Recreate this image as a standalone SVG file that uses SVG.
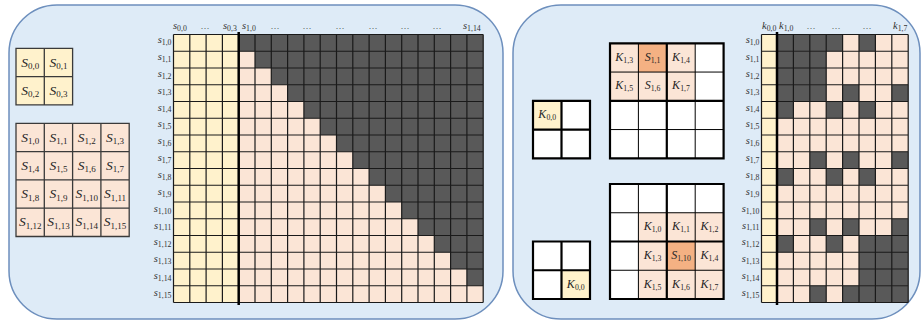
<svg xmlns="http://www.w3.org/2000/svg" width="923" height="322" viewBox="0 0 923 322">
<style>
.panel{fill:#deebf7;stroke:#6d8fbd;stroke-width:1.5}
.y{fill:#fff2cc}.p{fill:#fbe5d6}.d{fill:#595959}.o{fill:#f4b183}.w{fill:#ffffff}
.grid{fill:none;stroke:#1a1a1a;stroke-width:1.2}
.thick{fill:none;stroke:#000;stroke-width:2.5}
.sg{fill:none;stroke:#3a3a3a;stroke-width:1.3}
.kg{fill:none;stroke:#000;stroke-width:1}
.kt{fill:none;stroke:#000;stroke-width:2.2}
text{font-family:"Liberation Serif","DejaVu Serif",serif;font-style:italic;fill:#333333}
.ax{font-size:10.5px}
.ax tspan{font-size:7.8px;font-style:normal}
.cl{font-size:13.5px;fill:#262626;text-anchor:middle}
.cl tspan{font-size:9px;font-style:normal}
.kl{font-size:12px;fill:#262626;text-anchor:middle}
.kl tspan{font-size:7.8px;font-style:normal}
.dots{font-size:9px;font-style:normal;text-anchor:middle}
.r{text-anchor:end}
</style>

<g id="left-panel">
<rect class="panel" x="9" y="5" width="494" height="314" rx="48"/>
</g>

<g id="right-panel">
<rect class="panel" x="513" y="5" width="407" height="314" rx="48"/>
</g>

<g id="s0-grid">
<rect class="y" x="16" y="48.3" width="56.6" height="56.6"/>
<path class="sg" d="M16 48.3h56.6v56.6H16zM44.3 48.3V104.9M16 76.6H72.6"/>
<text class="cl" x="30.15" y="66.5">S<tspan dy="2.5">0,0</tspan></text>
<text class="cl" x="58.45" y="66.5">S<tspan dy="2.5">0,1</tspan></text>
<text class="cl" x="30.15" y="94.8">S<tspan dy="2.5">0,2</tspan></text>
<text class="cl" x="58.45" y="94.8">S<tspan dy="2.5">0,3</tspan></text>
</g>

<g id="s1-grid">
<rect class="p" x="16" y="123.3" width="113.2" height="113.2"/>
<path class="sg" d="M16 123.3h113.2v113.2H16zM44.3 123.3V236.5M72.6 123.3V236.5M100.9 123.3V236.5M16 151.6H129.2M16 179.9H129.2M16 208.2H129.2"/>
<text class="cl" x="30.15" y="141.5">S<tspan dy="2.5">1,0</tspan></text>
<text class="cl" x="58.45" y="141.5">S<tspan dy="2.5">1,1</tspan></text>
<text class="cl" x="86.75" y="141.5">S<tspan dy="2.5">1,2</tspan></text>
<text class="cl" x="115.05" y="141.5">S<tspan dy="2.5">1,3</tspan></text>
<text class="cl" x="30.15" y="169.8">S<tspan dy="2.5">1,4</tspan></text>
<text class="cl" x="58.45" y="169.8">S<tspan dy="2.5">1,5</tspan></text>
<text class="cl" x="86.75" y="169.8">S<tspan dy="2.5">1,6</tspan></text>
<text class="cl" x="115.05" y="169.8">S<tspan dy="2.5">1,7</tspan></text>
<text class="cl" x="30.15" y="198">S<tspan dy="2.5">1,8</tspan></text>
<text class="cl" x="58.45" y="198">S<tspan dy="2.5">1,9</tspan></text>
<text class="cl" x="86.75" y="198">S<tspan dy="2.5">1,10</tspan></text>
<text class="cl" x="115.05" y="198">S<tspan dy="2.5">1,11</tspan></text>
<text class="cl" x="30.15" y="226.4">S<tspan dy="2.5">1,12</tspan></text>
<text class="cl" x="58.45" y="226.4">S<tspan dy="2.5">1,13</tspan></text>
<text class="cl" x="86.75" y="226.4">S<tspan dy="2.5">1,14</tspan></text>
<text class="cl" x="115.05" y="226.4">S<tspan dy="2.5">1,15</tspan></text>
</g>

<g id="mask-matrix-left">
<rect class="y" x="173.5" y="34.5" width="65.2" height="268"/>
<rect class="p" x="238.7" y="34.5" width="244.5" height="268"/>
<polygon class="d" points="238.7,34.5 483.2,34.5 483.2,285.75 466.9,285.75 466.9,269 450.6,269 450.6,252.25 434.3,252.25 434.3,235.5 418,235.5 418,218.75 401.7,218.75 401.7,202 385.4,202 385.4,185.25 369.1,185.25 369.1,168.5 352.8,168.5 352.8,151.75 336.5,151.75 336.5,135 320.2,135 320.2,118.25 303.9,118.25 303.9,101.5 287.6,101.5 287.6,84.75 271.3,84.75 271.3,68 255,68 255,51.25 238.7,51.25"/>
<path class="grid" d="M173.5 34.5V302.5M189.8 34.5V302.5M206.1 34.5V302.5M222.4 34.5V302.5M255 34.5V302.5M271.3 34.5V302.5M287.6 34.5V302.5M303.9 34.5V302.5M320.2 34.5V302.5M336.5 34.5V302.5M352.8 34.5V302.5M369.1 34.5V302.5M385.4 34.5V302.5M401.7 34.5V302.5M418 34.5V302.5M434.3 34.5V302.5M450.6 34.5V302.5M466.9 34.5V302.5M483.2 34.5V302.5M173.5 34.5H483.2M173.5 51.25H483.2M173.5 68H483.2M173.5 84.75H483.2M173.5 101.5H483.2M173.5 118.25H483.2M173.5 135H483.2M173.5 151.75H483.2M173.5 168.5H483.2M173.5 185.25H483.2M173.5 202H483.2M173.5 218.75H483.2M173.5 235.5H483.2M173.5 252.25H483.2M173.5 269H483.2M173.5 285.75H483.2M173.5 302.5H483.2"/>
<path class="thick" d="M238.7 32V305"/>
<text class="ax" x="173" y="29.3">s<tspan dy="1.8">0,0</tspan></text>
<text class="dots" x="205" y="29">…</text>
<text class="ax" x="223" y="29.3">s<tspan dy="1.8">0,3</tspan></text>
<text class="ax" x="242" y="29.3">s<tspan dy="1.8">1,0</tspan></text>
<text class="dots" x="275" y="29">…</text>
<text class="dots" x="307" y="29">…</text>
<text class="dots" x="340" y="29">…</text>
<text class="dots" x="373" y="29">…</text>
<text class="dots" x="405" y="29">…</text>
<text class="dots" x="437" y="29">…</text>
<text class="ax" x="463" y="29.3">s<tspan dy="1.8">1,14</tspan></text>
<text class="ax r" x="171.5" y="43">s<tspan dy="1.8">1,0</tspan></text>
<text class="ax r" x="171.5" y="59.9">s<tspan dy="1.8">1,1</tspan></text>
<text class="ax r" x="171.5" y="76.7">s<tspan dy="1.8">1,2</tspan></text>
<text class="ax r" x="171.5" y="93.6">s<tspan dy="1.8">1,3</tspan></text>
<text class="ax r" x="171.5" y="110.5">s<tspan dy="1.8">1,4</tspan></text>
<text class="ax r" x="171.5" y="127.4">s<tspan dy="1.8">1,5</tspan></text>
<text class="ax r" x="171.5" y="144.2">s<tspan dy="1.8">1,6</tspan></text>
<text class="ax r" x="171.5" y="161.1">s<tspan dy="1.8">1,7</tspan></text>
<text class="ax r" x="171.5" y="178">s<tspan dy="1.8">1,8</tspan></text>
<text class="ax r" x="171.5" y="194.8">s<tspan dy="1.8">1,9</tspan></text>
<text class="ax r" x="171.5" y="211.7">s<tspan dy="1.8">1,10</tspan></text>
<text class="ax r" x="171.5" y="228.6">s<tspan dy="1.8">1,11</tspan></text>
<text class="ax r" x="171.5" y="245.4">s<tspan dy="1.8">1,12</tspan></text>
<text class="ax r" x="171.5" y="262.3">s<tspan dy="1.8">1,13</tspan></text>
<text class="ax r" x="171.5" y="279.2">s<tspan dy="1.8">1,14</tspan></text>
<text class="ax r" x="171.5" y="296">s<tspan dy="1.8">1,15</tspan></text>
</g>

<g id="k-small-top">
<rect class="w" x="533" y="100.8" width="57" height="57.5"/>
<rect class="y" x="533" y="100.8" width="28.5" height="28.75"/>
<path class="kt" d="M533 100.8h57v57.5H533zM561.5 100.8V158.3M533 129.55H590"/>
<text class="kl" x="547.25" y="118.3">K<tspan dy="2">0,0</tspan></text>
</g>

<g id="k-big-top">
<rect class="w" x="610" y="43.3" width="113.6" height="115"/>
<rect class="p" x="610" y="43.3" width="85.2" height="57.5"/>
<rect class="o" x="638.4" y="43.3" width="28.4" height="28.75"/>
<path class="kg" d="M638.4 43.3V158.3M695.2 43.3V158.3M610 72.05H723.6M610 129.55H723.6"/>
<path class="kt" d="M610 43.3h113.6v115H610zM666.8 43.3V158.3M610 100.8H723.6"/>
<text class="kl" x="624.2" y="60.7">K<tspan dy="2">1,3</tspan></text>
<text class="kl" x="652.6" y="60.7">S<tspan dy="2">1,1</tspan></text>
<text class="kl" x="681" y="60.7">K<tspan dy="2">1,4</tspan></text>
<text class="kl" x="624.2" y="89.4">K<tspan dy="2">1,5</tspan></text>
<text class="kl" x="652.6" y="89.4">S<tspan dy="2">1,6</tspan></text>
<text class="kl" x="681" y="89.4">K<tspan dy="2">1,7</tspan></text>
</g>

<g id="k-small-bottom">
<rect class="w" x="533" y="241.5" width="57" height="57.5"/>
<rect class="y" x="561.5" y="270.25" width="28.5" height="28.75"/>
<path class="kt" d="M533 241.5h57V299H533zM561.5 241.5V299M533 270.25H590"/>
<text class="kl" x="575.75" y="287.8">K<tspan dy="2">0,0</tspan></text>
</g>

<g id="k-big-bottom">
<rect class="w" x="610" y="184" width="113.6" height="115"/>
<rect class="p" x="638.4" y="212.75" width="85.2" height="86.25"/>
<rect class="o" x="666.8" y="241.5" width="28.4" height="28.75"/>
<path class="kg" d="M638.4 184V299M695.2 184V299M610 212.75H723.6M610 270.25H723.6"/>
<path class="kt" d="M610 184h113.6v115H610zM666.8 184V299M610 241.5H723.6"/>
<text class="kl" x="652.6" y="230.1">K<tspan dy="2">1,0</tspan></text>
<text class="kl" x="681" y="230.1">K<tspan dy="2">1,1</tspan></text>
<text class="kl" x="709.4" y="230.1">K<tspan dy="2">1,2</tspan></text>
<text class="kl" x="652.6" y="258.9">K<tspan dy="2">1,3</tspan></text>
<text class="kl" x="681" y="258.9">S<tspan dy="2">1,10</tspan></text>
<text class="kl" x="709.4" y="258.9">K<tspan dy="2">1,4</tspan></text>
<text class="kl" x="652.6" y="287.6">K<tspan dy="2">1,5</tspan></text>
<text class="kl" x="681" y="287.6">K<tspan dy="2">1,6</tspan></text>
<text class="kl" x="709.4" y="287.6">K<tspan dy="2">1,7</tspan></text>
</g>

<g id="mask-matrix-right">
<rect class="y" x="761.5" y="34.5" width="15.5" height="268"/>
<rect class="p" x="777" y="34.5" width="131.2" height="268"/>
<rect class="d" x="777" y="34.5" width="65.6" height="16.75"/>
<rect class="d" x="859" y="34.5" width="16.4" height="16.75"/>
<rect class="d" x="777" y="51.25" width="49.2" height="33.5"/>
<rect class="d" x="777" y="84.75" width="49.2" height="16.75"/>
<rect class="d" x="842.6" y="84.75" width="16.4" height="16.75"/>
<rect class="d" x="891.8" y="84.75" width="16.4" height="16.75"/>
<rect class="d" x="777" y="101.5" width="16.4" height="16.75"/>
<rect class="d" x="826.2" y="101.5" width="16.4" height="16.75"/>
<rect class="d" x="859" y="101.5" width="16.4" height="16.75"/>
<rect class="d" x="809.8" y="151.75" width="16.4" height="16.75"/>
<rect class="d" x="842.6" y="151.75" width="16.4" height="16.75"/>
<rect class="d" x="891.8" y="151.75" width="16.4" height="16.75"/>
<rect class="d" x="777" y="168.5" width="16.4" height="16.75"/>
<rect class="d" x="826.2" y="168.5" width="16.4" height="16.75"/>
<rect class="d" x="859" y="168.5" width="16.4" height="16.75"/>
<rect class="d" x="809.8" y="218.75" width="16.4" height="16.75"/>
<rect class="d" x="842.6" y="218.75" width="16.4" height="16.75"/>
<rect class="d" x="891.8" y="218.75" width="16.4" height="16.75"/>
<rect class="d" x="777" y="235.5" width="16.4" height="16.75"/>
<rect class="d" x="826.2" y="235.5" width="16.4" height="16.75"/>
<rect class="d" x="859" y="235.5" width="49.2" height="50.25"/>
<rect class="d" x="809.8" y="285.75" width="16.4" height="16.75"/>
<rect class="d" x="842.6" y="285.75" width="65.6" height="16.75"/>
<path class="grid" d="M761.5 34.5V302.5M793.4 34.5V302.5M809.8 34.5V302.5M826.2 34.5V302.5M842.6 34.5V302.5M859 34.5V302.5M875.4 34.5V302.5M891.8 34.5V302.5M908.2 34.5V302.5M761.5 34.5H908.2M761.5 51.25H908.2M761.5 68H908.2M761.5 84.75H908.2M761.5 101.5H908.2M761.5 118.25H908.2M761.5 135H908.2M761.5 151.75H908.2M761.5 168.5H908.2M761.5 185.25H908.2M761.5 202H908.2M761.5 218.75H908.2M761.5 235.5H908.2M761.5 252.25H908.2M761.5 269H908.2M761.5 285.75H908.2M761.5 302.5H908.2"/>
<path class="thick" d="M777 32V305"/>
<text class="ax" x="762" y="29.3">k<tspan dy="1.8">0,0</tspan></text>
<text class="ax" x="779" y="29.3">k<tspan dy="1.8">1,0</tspan></text>
<text class="dots" x="811" y="29">…</text>
<text class="dots" x="836" y="29">…</text>
<text class="dots" x="867" y="29">…</text>
<text class="ax" x="893" y="29.3">k<tspan dy="1.8">1,7</tspan></text>
<text class="ax r" x="759.5" y="43">s<tspan dy="1.8">1,0</tspan></text>
<text class="ax r" x="759.5" y="59.9">s<tspan dy="1.8">1,1</tspan></text>
<text class="ax r" x="759.5" y="76.7">s<tspan dy="1.8">1,2</tspan></text>
<text class="ax r" x="759.5" y="93.6">s<tspan dy="1.8">1,3</tspan></text>
<text class="ax r" x="759.5" y="110.5">s<tspan dy="1.8">1,4</tspan></text>
<text class="ax r" x="759.5" y="127.4">s<tspan dy="1.8">1,5</tspan></text>
<text class="ax r" x="759.5" y="144.2">s<tspan dy="1.8">1,6</tspan></text>
<text class="ax r" x="759.5" y="161.1">s<tspan dy="1.8">1,7</tspan></text>
<text class="ax r" x="759.5" y="178">s<tspan dy="1.8">1,8</tspan></text>
<text class="ax r" x="759.5" y="194.8">s<tspan dy="1.8">1,9</tspan></text>
<text class="ax r" x="759.5" y="211.7">s<tspan dy="1.8">1,10</tspan></text>
<text class="ax r" x="759.5" y="228.6">s<tspan dy="1.8">1,11</tspan></text>
<text class="ax r" x="759.5" y="245.4">s<tspan dy="1.8">1,12</tspan></text>
<text class="ax r" x="759.5" y="262.3">s<tspan dy="1.8">1,13</tspan></text>
<text class="ax r" x="759.5" y="279.2">s<tspan dy="1.8">1,14</tspan></text>
<text class="ax r" x="759.5" y="296">s<tspan dy="1.8">1,15</tspan></text>
</g>
</svg>
